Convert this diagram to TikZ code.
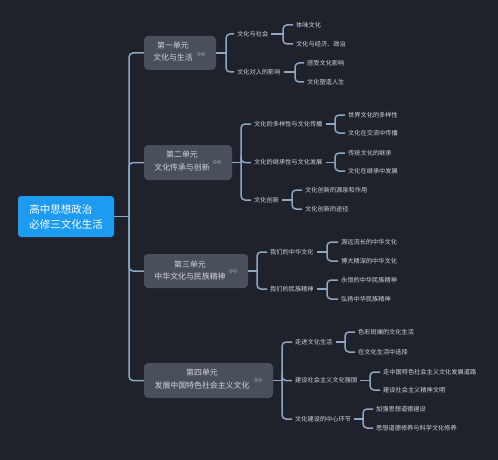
\documentclass[tikz,border=0pt]{standalone}
\usepackage{fontspec}
\newfontfamily\cjk{Noto Sans CJK SC}
\definecolor{bgc}{HTML}{1F222B}
\definecolor{boxc}{HTML}{4A4F5C}
\definecolor{connc}{HTML}{8EA7C4}
\definecolor{txtc}{HTML}{D2D5DA}
\definecolor{rootc}{HTML}{1D9BF0}
\definecolor{iconc}{HTML}{7A808B}
\newcommand\mmfan[3]{%
  \coordinate (tmpb) at (#2,0);
  \draw[conn] (#1.east) -- (#1.east -| tmpb) coordinate (tmpj);
  \foreach \c in {#3} \draw[conn,rounded corners=4pt] (tmpj) |- (\c.west);
}
\newcommand\mmicon[2]{%
  \draw[iconc,line width=0.8pt] (#1-2.2,#2) circle (1.7) (#1+2.2,#2) circle (1.7);
}
\begin{document}
\begin{tikzpicture}[x=1pt,y=-1pt,
  conn/.style={draw=connc,line width=1.5pt},
  unitbox/.style={draw=none,fill=boxc,rounded corners=4pt,inner sep=0pt},
  unittext/.style={text=txtc,align=center,inner sep=0pt,font=\cjk\fontsize{7.9}{12.5}\selectfont},
  lvl/.style={anchor=west,inner xsep=3pt,inner ysep=1pt,text=txtc,font=\cjk\fontsize{6.2}{7}\selectfont}]
\fill[bgc] (0,0) rectangle (498,460);
\useasboundingbox (0,0) rectangle (498,460);
% root
\node[fill=rootc,rounded corners=3pt,minimum width=96pt,minimum height=41pt,inner xsep=10pt,
  align=left,text=white,font=\cjk\fontsize{10.5}{15}\selectfont] (root) at (66,216.5) {高中思想政治\\必修三文化生活};
% units
\node[unitbox,minimum width=72pt,minimum height=34pt] (u1) at (180,53) {};
\node[unittext] (u1t) at (173,51.5) {第一单元\\文化与生活};
\mmicon{201}{54}
\node[unitbox,minimum width=88pt,minimum height=35pt] (u2) at (188,162.5) {};
\node[unittext] (u2t) at (182,161) {第二单元\\文化传承与创新};
\mmicon{217}{162}
\node[unitbox,minimum width=104pt,minimum height=34pt] (u3) at (196,271) {};
\node[unittext] (u3t) at (190,270.5) {第三单元\\中华文化与民族精神};
\mmicon{233}{271}
\node[unitbox,minimum width=129pt,minimum height=35pt] (u4) at (208.5,380.5) {};
\node[unittext] (u4t) at (202,379) {第四单元\\发展中国特色社会主义文化};
\mmicon{258}{380}
% unit 1
\node[lvl] (c11) at (234,34) {文化与社会};
\node[lvl] (c12) at (234,72) {文化对人的影响};
\node[lvl] (l111) at (293,25) {体味文化};
\node[lvl] (l112) at (293,44) {文化与经济、政治};
\node[lvl] (l121) at (304,63) {感受文化影响};
\node[lvl] (l122) at (304,82) {文化塑造人生};
% unit 2
\node[lvl] (c21) at (251,124) {文化的多样性与文化传播};
\node[lvl] (c22) at (251,162.5) {文化的继承性与文化发展};
\node[lvl] (c23) at (251,200) {文化创新};
\node[lvl] (l211) at (345,115) {世界文化的多样性};
\node[lvl] (l212) at (345,133) {文化在交流中传播};
\node[lvl] (l221) at (345,153) {传统文化的继承};
\node[lvl] (l222) at (345,171) {文化在继承中发展};
\node[lvl] (l231) at (302,190) {文化创新的源泉和作用};
\node[lvl] (l232) at (302,209) {文化创新的途径};
% unit 3
\node[lvl] (c31) at (267,252) {我们的中华文化};
\node[lvl] (c32) at (267,289) {我们的民族精神};
\node[lvl] (l311) at (338,242) {源远流长的中华文化};
\node[lvl] (l312) at (338,261) {博大精深的中华文化};
\node[lvl] (l321) at (338,280) {永恒的中华民族精神};
\node[lvl] (l322) at (338,299) {弘扬中华民族精神};
% unit 4
\node[lvl] (c41) at (292,342) {走进文化生活};
\node[lvl] (c42) at (292,380.5) {建设社会主义文化强国};
\node[lvl] (c43) at (292,419) {文化建设的中心环节};
\node[lvl] (l411) at (355,332) {色彩斑斓的文化生活};
\node[lvl] (l412) at (355,352) {在文化生活中选择};
\node[lvl] (l421) at (380,372) {走中国特色社会主义文化发展道路};
\node[lvl] (l422) at (380,390) {建设社会主义精神文明};
\node[lvl] (l431) at (373,409) {加强思想道德建设};
\node[lvl] (l432) at (373,428) {思想道德修养与科学文化修养};
% connectors
\mmfan{root}{129}{u1,u2,u3,u4}
\mmfan{u1}{226}{c11,c12}
\mmfan{c11}{283}{l111,l112}
\mmfan{c12}{295}{l121,l122}
\mmfan{u2}{241}{c21,c22,c23}
\mmfan{c21}{335}{l211,l212}
\mmfan{c22}{335}{l221,l222}
\mmfan{c23}{292}{l231,l232}
\mmfan{u3}{257}{c31,c32}
\mmfan{c31}{327}{l311,l312}
\mmfan{c32}{327}{l321,l322}
\mmfan{u4}{282}{c41,c42,c43}
\mmfan{c41}{345}{l411,l412}
\mmfan{c42}{370}{l421,l422}
\mmfan{c43}{363}{l431,l432}
\end{tikzpicture}
\end{document}
